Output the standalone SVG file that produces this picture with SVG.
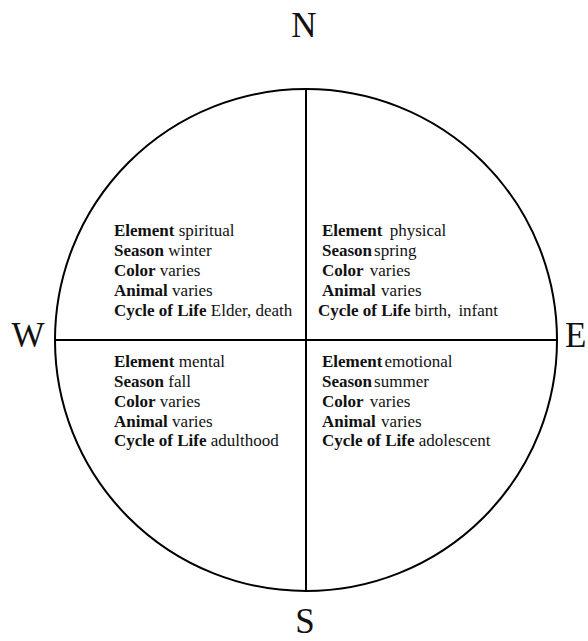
<svg xmlns="http://www.w3.org/2000/svg" width="588" height="641" viewBox="0 0 588 641">
<style>
.t{font-family:"Liberation Serif","DejaVu Serif",serif;font-size:17px;fill:#111}
.b{font-weight:bold}
.c{font-family:"Liberation Serif","DejaVu Serif",serif;font-size:35px;fill:#111}
.ln{stroke:#000;stroke-width:2;fill:none}
</style>
<rect width="588" height="641" fill="#fff"/>
<g id="connectors">
<circle class="ln" cx="306" cy="340" r="251"/>
<line class="ln" x1="306" y1="89" x2="306" y2="591"/>
<line class="ln" x1="55" y1="340" x2="557" y2="340"/>
</g>
<g id="north"><text class="c" x="304" y="37" text-anchor="middle">N</text></g>
<g id="south"><text class="c" x="305" y="633" text-anchor="middle">S</text></g>
<g id="west"><text class="c" x="28" y="347" text-anchor="middle">W</text></g>
<g id="east"><text class="c" x="565" y="347">E</text></g>
<g id="nw">
<text class="t" x="114" y="236"><tspan class="b">Element</tspan> spiritual</text>
<text class="t" x="114" y="256"><tspan class="b">Season</tspan> winter</text>
<text class="t" x="114" y="276"><tspan class="b">Color</tspan> varies</text>
<text class="t" x="114" y="296"><tspan class="b">Animal</tspan> varies</text>
<text class="t" x="114" y="316"><tspan class="b">Cycle of Life</tspan> Elder, death</text>
</g>
<g id="ne">
<text class="t" x="322" y="236"><tspan class="b">Element</tspan>  <tspan dx="3">physical</tspan></text>
<text class="t" x="322" y="256"><tspan class="b">Season</tspan><tspan dx="2">spring</tspan></text>
<text class="t" x="322" y="276"><tspan class="b">Color</tspan> <tspan dx="2">varies</tspan></text>
<text class="t" x="322" y="296"><tspan class="b">Animal</tspan> <tspan dx="1">varies</tspan></text>
<text class="t" x="318" y="316"><tspan class="b">Cycle of Life</tspan> birth, <tspan dx="3">infant</tspan></text>
</g>
<g id="sw">
<text class="t" x="114" y="367"><tspan class="b">Element</tspan> mental</text>
<text class="t" x="114" y="387"><tspan class="b">Season</tspan> fall</text>
<text class="t" x="114" y="407"><tspan class="b">Color</tspan> varies</text>
<text class="t" x="114" y="427"><tspan class="b">Animal</tspan> varies</text>
<text class="t" x="114" y="446"><tspan class="b">Cycle of Life</tspan> adulthood</text>
</g>
<g id="se">
<text class="t" x="322" y="367"><tspan class="b">Element</tspan><tspan dx="2">emotional</tspan></text>
<text class="t" x="322" y="387"><tspan class="b">Season</tspan><tspan dx="2">summer</tspan></text>
<text class="t" x="322" y="407"><tspan class="b">Color</tspan> <tspan dx="2">varies</tspan></text>
<text class="t" x="322" y="427"><tspan class="b">Animal</tspan> <tspan dx="1">varies</tspan></text>
<text class="t" x="322" y="446"><tspan class="b">Cycle of Life</tspan> adolescent</text>
</g>
</svg>
